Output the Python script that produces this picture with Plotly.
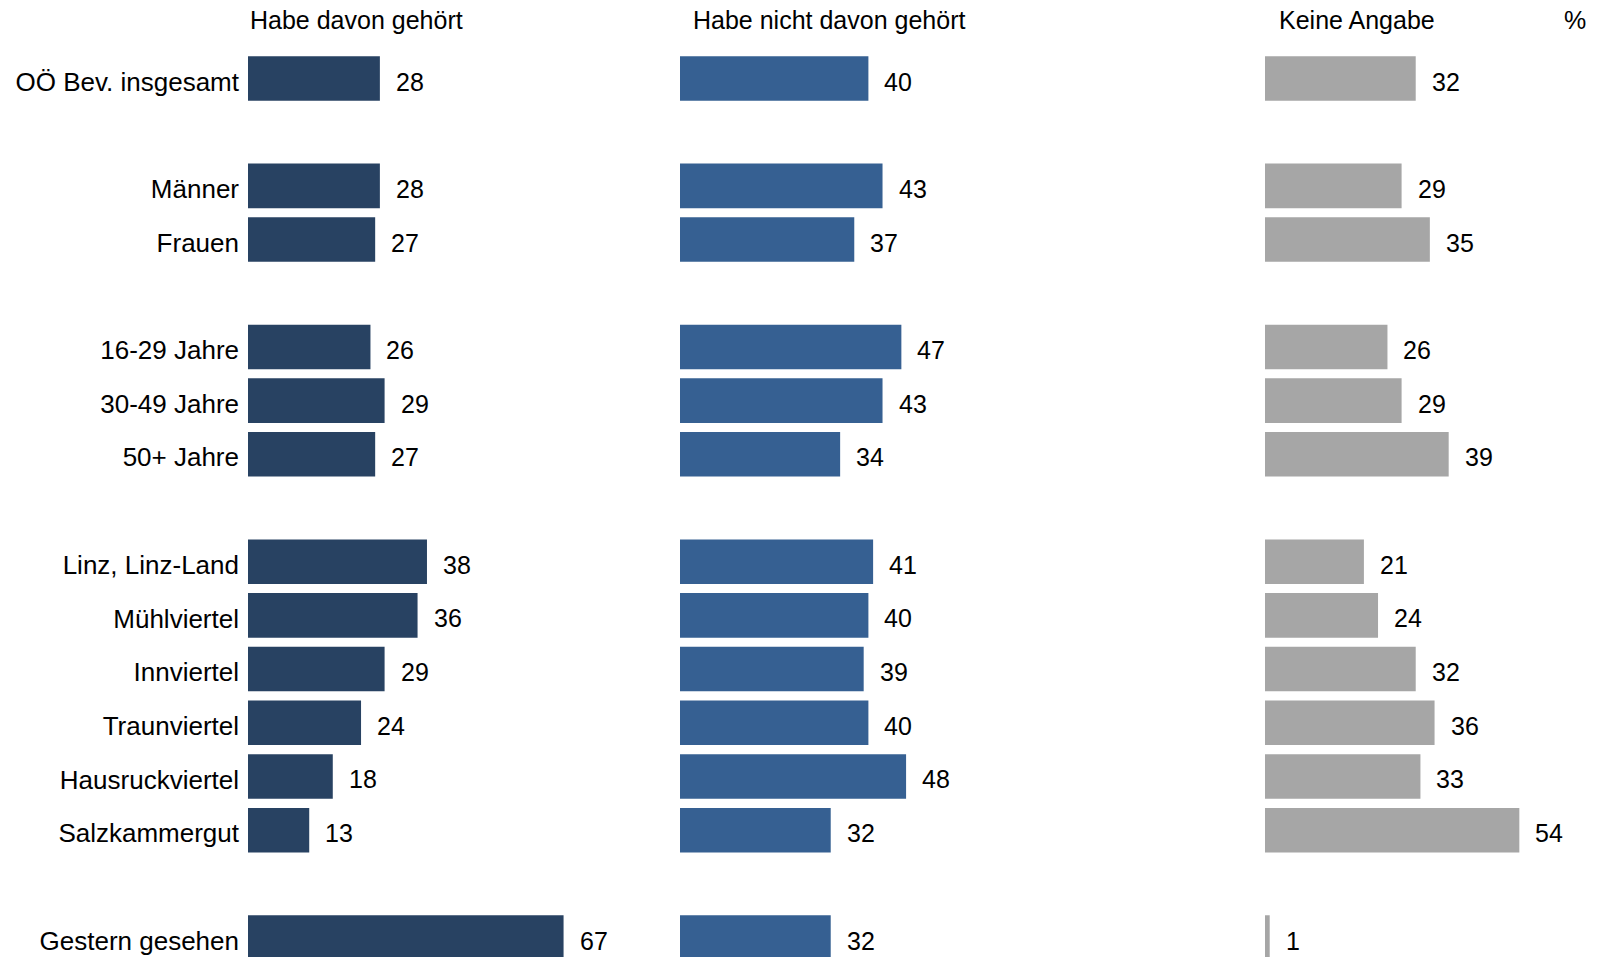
import plotly.graph_objects as go

# ---- data ----
groups = [
    ["OÖ Bev. insgesamt"],
    ["Männer", "Frauen"],
    ["16-29 Jahre", "30-49 Jahre", "50+ Jahre"],
    ["Linz, Linz-Land", "Mühlviertel", "Innviertel", "Traunviertel", "Hausruckviertel", "Salzkammergut"],
    ["Gestern gesehen"],
]
series_names = ["Habe davon gehört", "Habe nicht davon gehört", "Keine Angabe"]
gehoert = [28, 28, 27, 26, 29, 27, 38, 36, 29, 24, 18, 13, 67]
nicht_gehoert = [40, 43, 37, 47, 43, 34, 41, 40, 39, 40, 48, 32, 32]
keine_angabe = [32, 29, 35, 26, 29, 39, 21, 24, 32, 36, 33, 54, 1]
unit_label = "%"

# ---- build category order with blank spacer rows between groups ----
categories = [c for g in groups for c in g]
cat_order = []
for gi, g in enumerate(groups):
    if gi > 0:
        cat_order.append(" " * gi)
    cat_order.extend(g)

colors = ["#284262", "#366092", "#A6A6A6"]
W, H = 1601, 957
FONT = "Arial, Liberation Sans, sans-serif"

# horizontal layout (page pixels)
px_per_unit = 4.71
starts = [248, 680, 1265]
header_x = [248, 691, 1277]
ranges = [80, 80, 70]

fig = go.Figure()
all_vals = [gehoert, nicht_gehoert, keine_angabe]
axis_ids = ["x", "x2", "x3"]
annotations = []
for i, vals in enumerate(all_vals):
    fig.add_trace(go.Bar(
        x=vals, y=categories, orientation="h",
        marker=dict(color=colors[i], line=dict(width=0)),
        width=0.83, xaxis=axis_ids[i], yaxis="y",
        name=series_names[i], showlegend=False, hoverinfo="x+y",
    ))
    for c, v in zip(categories, vals):
        annotations.append(dict(
            x=v, y=c, xref=axis_ids[i], yref="y", text=str(v),
            showarrow=False, xanchor="left", yanchor="middle",
            xshift=14, yshift=-3, font=dict(size=25, color="#000000", family=FONT),
        ))
    annotations.append(dict(
        x=header_x[i] / W, y=1 - 20 / H,
        xref="paper", yref="paper", text=series_names[i], showarrow=False,
        xanchor="left", yanchor="middle",
        font=dict(size=25, color="#000000", family=FONT),
    ))
annotations.append(dict(
    x=1588 / W, y=1 - 20 / H, xref="paper", yref="paper", text=unit_label,
    showarrow=False, xanchor="right", yanchor="middle",
    font=dict(size=25, color="#000000", family=FONT),
))

row0_center = 78.5
pitch = 53.69
y_top = -row0_center / pitch
y_bot = (H - row0_center) / pitch

layout_axes = {}
for i, aid in enumerate(axis_ids):
    key = "xaxis" if i == 0 else f"xaxis{i+1}"
    d0 = starts[i] / W
    d1 = (starts[i] + ranges[i] * px_per_unit) / W
    layout_axes[key] = dict(
        domain=[d0, min(d1, 1.0)], range=[0, ranges[i]], anchor="y",
        showgrid=False, zeroline=False, showline=False,
        showticklabels=False, ticks="", fixedrange=True,
    )

fig.update_layout(
    width=W, height=H,
    margin=dict(l=0, r=0, t=0, b=0),
    paper_bgcolor="white", plot_bgcolor="white",
    yaxis=dict(
        type="category", categoryorder="array", categoryarray=cat_order,
        range=[y_bot, y_top], anchor="x", showgrid=False, zeroline=False,
        showline=False, ticks="", ticklabelstandoff=8, ticklabelshift=-3,
        tickfont=dict(size=26, color="#000000", family=FONT),
    ),
    annotations=annotations,
    bargap=0.17,
    font=dict(family=FONT, size=25, color="#000000"),
    **layout_axes,
)

fig.write_html(
    "out.html",
    config={"displayModeBar": False},
    post_script="document.body.style.margin='0';document.body.style.overflow='hidden';",
)
